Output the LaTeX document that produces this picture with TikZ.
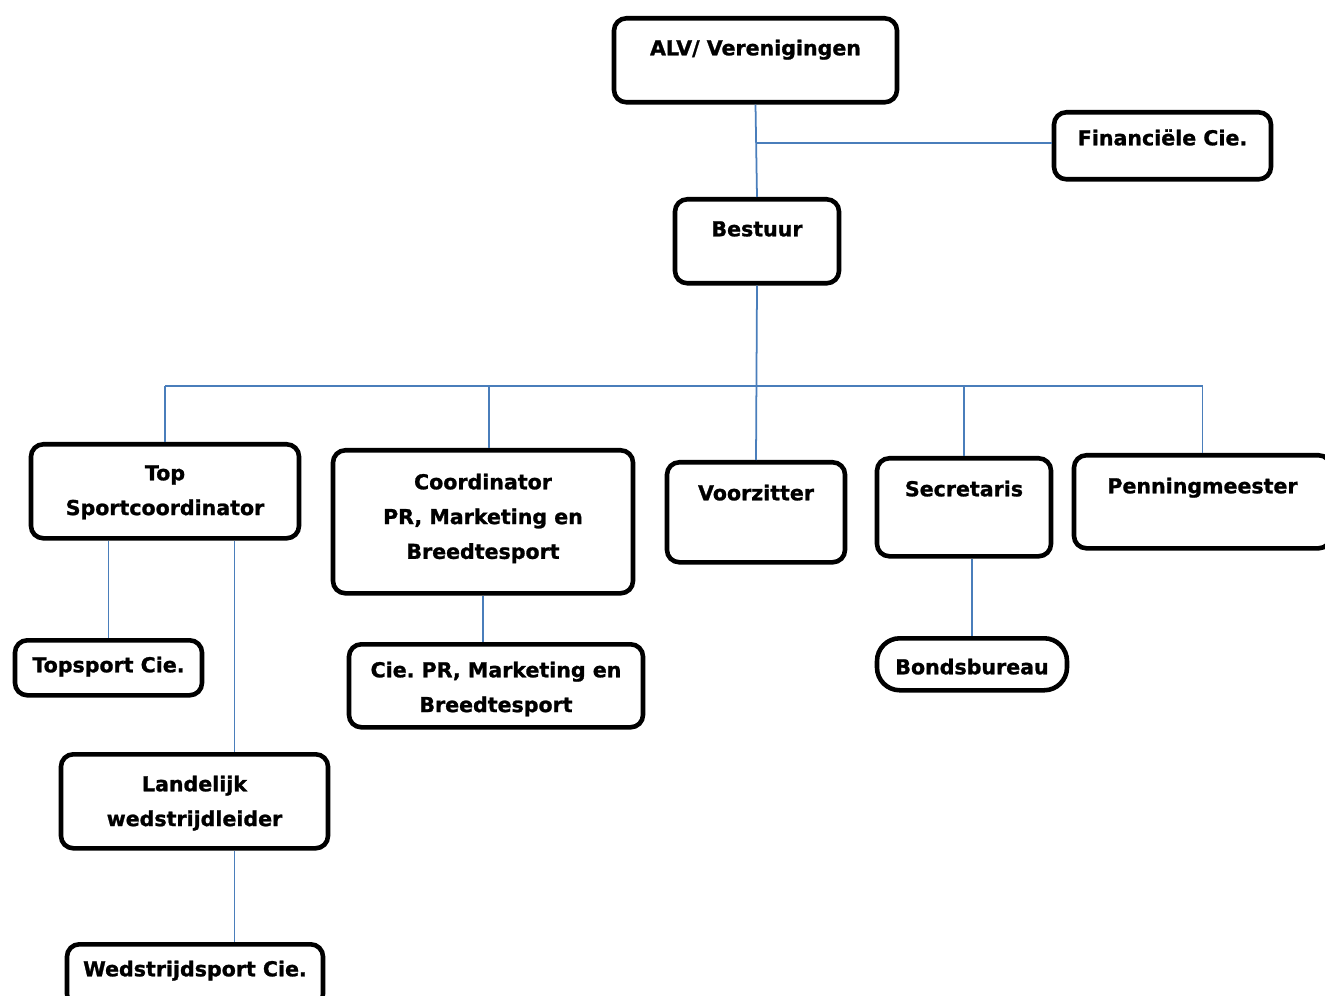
\documentclass[tikz,border=0pt]{standalone}
\usepackage{fontspec}
\setmainfont{DejaVu Sans}[BoldFeatures={FakeBold=1.2}]
\usetikzlibrary{positioning}
\definecolor{linkblue}{RGB}{74,126,187}
\newcommand{\orglines}[1]{\begin{tabular}[t]{@{}c@{}}#1\end{tabular}}
\frenchspacing

\begin{document}
\begin{tikzpicture}[x=0.02cm,y=-0.02cm,
    box/.style n args={3}{draw, line width=2.6pt, rounded corners=7pt, anchor=north,
        inner sep=0pt, minimum width=#1*0.02cm, text height=#3*0.02cm,
        text depth=(#2-#3)*0.02cm, font=\fontsize{11.7}{19.8}\selectfont\bfseries},
    link/.style={draw=linkblue, line width=1pt}]

            \clip (0,0) rectangle (1325,996);

            % top of the tree
            \node[box={283}{84}{37}] (alv) at (755.5,16) {ALV/ Verenigingen};
            \node[box={217}{67}{33}] (fin) at (1162.5,110) {Financiële Cie.};
            \node[box={164}{84}{37}] (bestuur) at (757,197) {Bestuur};

            % second row
            \node[box={268}{94}{36}] (top) at (165,442) {\orglines{Top\\Sportcoordinator}};
            \node[box={300}{143}{39}] (coord) at (483,448) {\orglines{Coordinator\\PR, Marketing en\\Breedtesport}};
            \node[box={178}{100}{38}] (voorz) at (756,460) {Voorzitter};
            \node[box={174}{98}{38}] (secr) at (964,456) {Secretaris};
            \node[box={257}{93}{38}] (penn) at (1202.5,453) {Penningmeester};

            % committees
            \node[box={187}{55}{32}] (topsport) at (108.5,638) {Topsport Cie.};
            \node[box={294}{83}{33}] (ciepr) at (496,642) {\orglines{Cie. PR, Marketing en\\Breedtesport}};
            \node[box={190}{52}{36}, rounded corners=13pt] (bonds) at (972,636) {Bondsbureau};
            \node[box={267}{94}{37}] (landelijk) at (194.5,752) {\orglines{Landelijk\\wedstrijdleider}};
            \node[box={256}{62}{32}] (wedstr) at (195,942) {Wedstrijdsport Cie.};

            \coordinate (bus) at (756,386);
            \coordinate (ll) at ([xshift=0.8cm]landelijk.north);

            \draw[link] (alv.south) -- (bestuur.north);
            \draw[link] ([yshift=0.06cm]alv.south |- fin.west) -- ([yshift=0.06cm]fin.west);
            \draw[link] (bestuur.south) -- (voorz.north);
            \draw[link] (top.north |- bus) -- (penn.north |- bus);
            \foreach \n in {top,secr,penn} {
                \draw[link] (\n.north |- bus) -- (\n.north);
            }
            \draw[link] ([xshift=0.12cm]coord.north |- bus) -- ([xshift=0.12cm]coord.north);
            \draw[link] (topsport.north |- top.south) -- (topsport.north);
            \draw[link] (ll |- top.south) -- (ll);
            \draw[link] (ll |- landelijk.south) -- (ll |- wedstr.north);
            \draw[link] (coord.south) -- (coord.south |- ciepr.north);
            \draw[link] (bonds.north |- secr.south) -- (bonds.north);

        \end{tikzpicture}
\end{document}
